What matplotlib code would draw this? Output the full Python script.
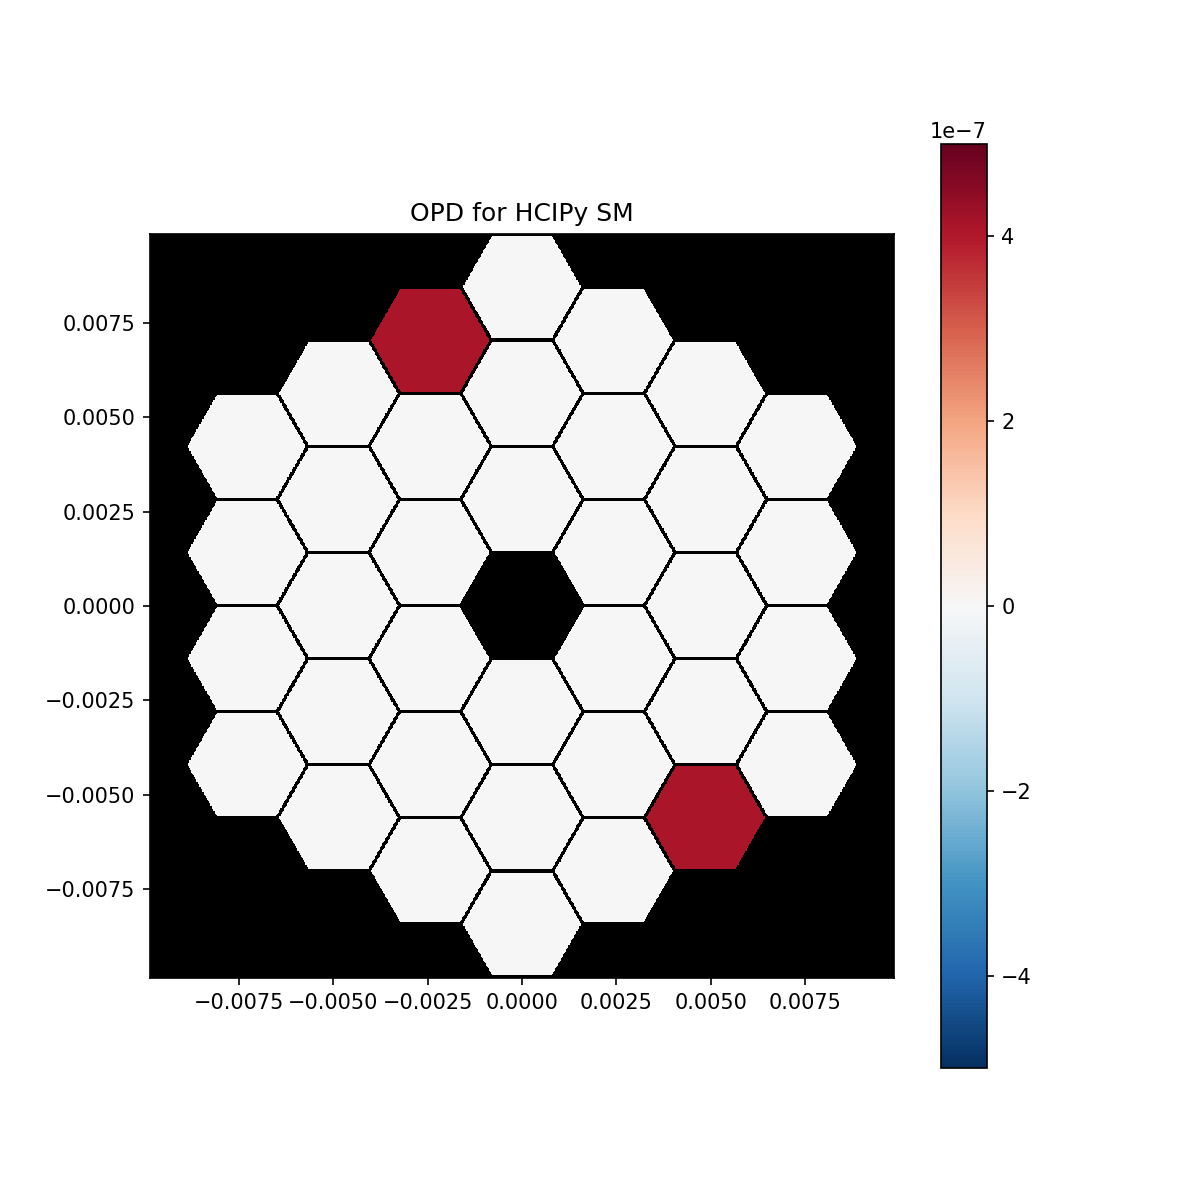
import numpy as np
import matplotlib
matplotlib.use("Agg")
import matplotlib.pyplot as plt

# Segmented mirror layout: 3 hexagonal rings, central segment missing
num_rings = 3
segment_pitch = 0.00281      # m, centre-to-centre (flat direction)
segment_gap = 0.00009        # m
grid_half_extent = 0.00985   # m
grid_size = 1024

# Piston OPD per segment (m), in generation order (column-major)
segment_opd = [0.0] * 36
segment_opd[14] = 4.1e-7
segment_opd[27] = 4.1e-7

title = "OPD for HCIPy SM"
vmin, vmax = -5e-7, 5e-7

# Build segment centres from hex lattice
centers = []
for q in range(-num_rings, num_rings + 1):
    for r in range(max(-num_rings, -q - num_rings), min(num_rings, -q + num_rings) + 1):
        if q == 0 and r == 0:
            continue
        cx = segment_pitch * np.sqrt(3) / 2 * q
        cy = segment_pitch * (r + q / 2)
        centers.append((cx, cy))

coords = np.linspace(-grid_half_extent, grid_half_extent, grid_size)
X, Y = np.meshgrid(coords, coords)
opd = np.full(X.shape, np.nan)
s = segment_pitch - segment_gap
for (cx, cy), val in zip(centers, segment_opd):
    dx = np.abs(X - cx)
    dy = np.abs(Y - cy)
    inside = (dy <= s / 2) & (np.sqrt(3) / 2 * dx + 0.5 * dy <= s / 2)
    opd[inside] = val

cmap = plt.get_cmap("RdBu_r").copy()
cmap.set_bad("black")

fig = plt.figure(figsize=(8, 8), dpi=150)
im = plt.imshow(np.ma.masked_invalid(opd), origin="lower", cmap=cmap,
                vmin=vmin, vmax=vmax,
                extent=[-grid_half_extent, grid_half_extent,
                        -grid_half_extent, grid_half_extent],
                interpolation="nearest")
plt.title(title)
plt.colorbar(im)
plt.savefig("out.png", dpi=150)
